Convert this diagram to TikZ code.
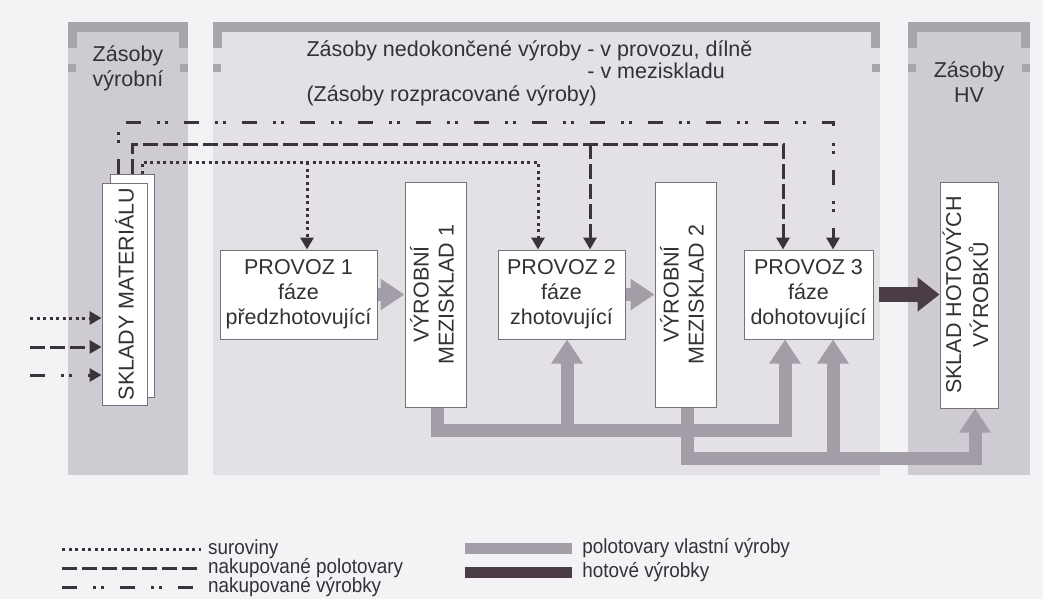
\documentclass[tikz,border=0pt]{standalone}
\usepackage{graphicx}
\usepackage{fontspec}
\setmainfont{Liberation Sans}
\newfontfamily\legendfont[FakeStretch=0.92]{Liberation Sans}
\usetikzlibrary{arrows.meta}

\definecolor{pagebg}{HTML}{F3F2F4}
\definecolor{colbg}{HTML}{CFCBD2}
\definecolor{midbg}{HTML}{E3E1E6}
\definecolor{framegray}{HTML}{A9A5AC}
\definecolor{flowgray}{HTML}{A29DA6}
\definecolor{darkflow}{HTML}{4A3D47}
\definecolor{ink}{HTML}{3A3339}
\definecolor{boxline}{HTML}{77727A}
\definecolor{txt}{HTML}{333136}

\begin{document}
\begin{tikzpicture}[x=1pt,y=-1pt,
  every node/.style={font=\fontsize{21.5}{25}\selectfont, text=txt},
  box/.style={draw=boxline, line width=1pt, fill=white, inner sep=0pt, align=center},
  supply/.style={draw=ink, line width=3pt},
  lnraw/.style={supply, dash pattern=on 3pt off 3.5pt},
  lnbought/.style={supply, dash pattern=on 15pt off 5pt},
  lngoods/.style={supply, dash pattern=on 15pt off 16pt on 3pt off 5pt on 3pt off 16pt},
  headed/.style={-{Triangle[length=12pt,width=13pt]}},
  flowsemi/.style={draw=flowgray, line width=13pt, line join=miter,
                   -{Triangle[length=24pt,width=30pt]}},
  flowfinal/.style={draw=darkflow, line width=15pt,
                    -{Triangle[length=22pt,width=33pt]}},
  legtext/.style={font=\legendfont\fontsize{20.5}{22}\selectfont, anchor=west, inner sep=0pt},
]
\useasboundingbox (0,0) rectangle (1043,599);

% page and the three stock zones
\fill[pagebg] (0,0) rectangle (1043,599);
\fill[colbg] (68,22) rectangle (188,475);
\fill[midbg] (213,22) rectangle (880,475);
\fill[colbg] (908,22) rectangle (1030,475);

% bracket frames on top of each zone
\foreach \xa/\xb in {68/188, 213/880, 908/1030} {
  \fill[framegray] (\xa,22) rectangle (\xb,32);
  \fill[framegray] (\xa,22) rectangle (\xa+9,48);
  \fill[framegray] (\xb-9,22) rectangle (\xb,48);
  \fill[framegray] (\xa,64) rectangle (\xa+8,72);
  \fill[framegray] (\xb-8,64) rectangle (\xb,72);
}

% zone headings
\node[align=center] (hdl) at (128,68) {Zásoby\\výrobní};
\node[align=left, anchor=west, font=\fontsize{21.5}{22.5}\selectfont] (hdm) at (303,73)
  {Zásoby nedokončené výroby - v provozu, dílně\\
   \hphantom{Zásoby nedokončené výroby }- v meziskladu\\
   (Zásoby rozpracované výroby)};
\node[align=center] (hdr) at (969,82) {Zásoby\\HV};

% stores and workshops
\node[box, minimum width=44, minimum height=223] (sklb) at (132,285.5) {};
\node[box, minimum width=45, minimum height=222] (sklf) at (124.5,294)
  {\rotatebox{90}{SKLADY MATERIÁLU}};
\node[box, minimum width=157, minimum height=89] (p1) at (298.5,294.5)
  {PROVOZ 1\\fáze\\předzhotovující};
\node[box, minimum width=61, minimum height=225] (mez1) at (435.5,294.5)
  {\rotatebox{90}{\begin{tabular}{@{}c@{}}VÝROBNÍ\\MEZISKLAD 1\end{tabular}}};
\node[box, minimum width=127, minimum height=89] (p2) at (561.5,294.5)
  {PROVOZ 2\\fáze\\zhotovující};
\node[box, minimum width=61, minimum height=225] (mez2) at (685.5,294.5)
  {\rotatebox{90}{\begin{tabular}{@{}c@{}}VÝROBNÍ\\MEZISKLAD 2\end{tabular}}};
\node[box, minimum width=129, minimum height=89] (p3) at (808.5,294.5)
  {PROVOZ 3\\fáze\\dohotovující};
\node[box, minimum width=58, minimum height=226] (hv) at (969,295)
  {\rotatebox{90}{\begin{tabular}{@{}c@{}}SKLAD HOTOVÝCH\\VÝROBKŮ\end{tabular}}};

% incoming material
\coordinate (in1) at (30,318);
\coordinate (in2) at (30,347);
\coordinate (in3) at (30,375);
\draw[lnraw, headed] (in1) -- (in1 -| sklf.west);
\draw[lnbought, headed] (in2) -- (in2 -| sklf.west);
\draw[lngoods, headed] (in3) -- (in3 -| sklf.west);

% raw materials (dotted)
\coordinate (rawc) at (142,162);
\coordinate (rawj) at (307,162);
\coordinate (rawe) at (538,162);
\draw[lnraw, headed] (sklb.north -| rawc) -- (rawc) -- (rawe) -- (rawe |- p2.north);
\draw[lnraw, headed] (rawj) -- (rawj |- p1.north);

% bought semi-products (dashed)
\coordinate (bc) at (132,144);
\coordinate (bj) at (590,144);
\coordinate (be) at (783,144);
\draw[lnbought, headed] (sklb.north -| bc) -- (bc) -- (be) -- (be |- p3.north);
\draw[lnbought, headed] (bj) -- (bj |- p2.north);

% bought products (dash and dots)
\coordinate (gc) at (118,123);
\coordinate (ge) at (833,123);
\draw[lngoods, headed] (sklb.north -| gc) -- (gc) -- (ge) -- (ge |- p3.north);

% own semi-products along the line
\draw[flowsemi] (p1.east) -- (p1.east -| mez1.west);
\draw[flowsemi] (p2.east) -- (p2.east -| mez2.west);
\draw[flowfinal, shorten <=5pt] (p3.east) -- (p3.east -| hv.west);

\coordinate (a1) at (437,430);
\coordinate (a2) at (567,430);
\coordinate (a3) at (785,430);
\draw[flowsemi] (mez1.south -| a1) -- (a1) -- (a3) -- (a3 |- p3.south);
\draw[flowsemi] (a2) -- (a2 |- p2.south);

\coordinate (b1) at (687,458);
\coordinate (b2) at (833,458);
\coordinate (b3) at (975,458);
\draw[flowsemi] (mez2.south -| b1) -- (b1) -- (b3) -- (b3 |- hv.south);
\draw[flowsemi] (b2) -- (b2 |- p3.south);

% legend
\node[legtext] (t1) at (208,549) {suroviny};
\node[legtext] (t2) at (208,568) {nakupované polotovary};
\node[legtext] (t3) at (208,587) {nakupované výrobky};
\coordinate (s1) at (62,549);
\coordinate (s2) at (62,568);
\coordinate (s3) at (62,587);
\draw[lnraw] (s1) -- ([xshift=-7pt]t1.west);
\draw[lnbought] (s2) -- ([xshift=-7pt]t2.west);
\draw[lngoods] (s3) -- ([xshift=-7pt]t3.west);

\node[fill=flowgray, minimum width=107, minimum height=11, inner sep=0pt] (k1) at (518.5,548.5) {};
\node[fill=darkflow, minimum width=107, minimum height=11, inner sep=0pt] (k2) at (518.5,572.5) {};
\node[legtext] (t4) at ([xshift=10pt]k1.east) {polotovary vlastní výroby};
\node[legtext] (t5) at ([xshift=10pt]k2.east) {hotové výrobky};
\end{tikzpicture}
\end{document}
